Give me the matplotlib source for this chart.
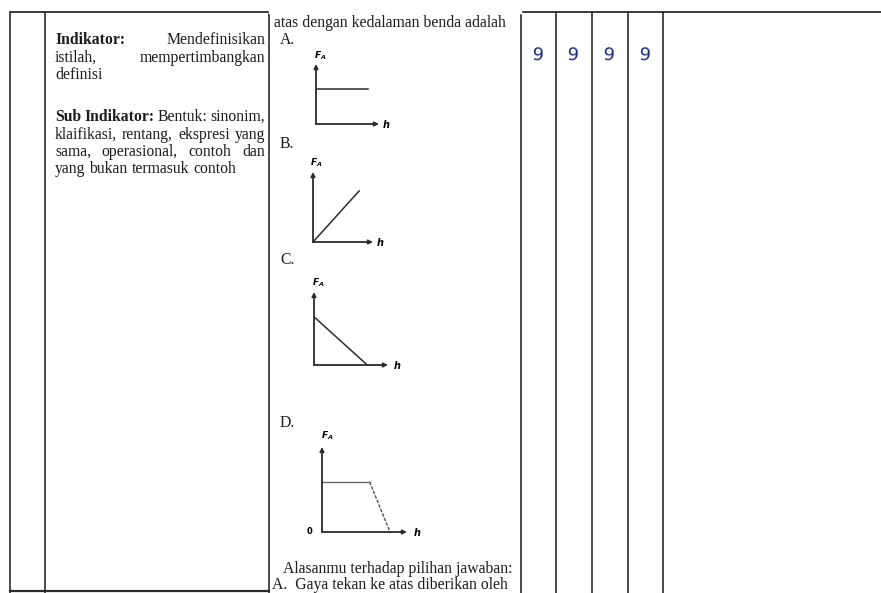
import matplotlib
matplotlib.use("Agg")
import matplotlib.pyplot as plt

plt.rcParams["mathtext.fontset"] = "custom"
plt.rcParams["mathtext.it"] = "DejaVu Sans:italic:bold"
plt.rcParams["mathtext.rm"] = "DejaVu Sans:bold"

W, H = 881, 593
SERIF = "Liberation Serif"
INK = "#1c1c1c"
GRID = "#2b2b2b"
PEN = "#1b2a80"
FS = 11.3

# --- content ---------------------------------------------------------------
indikator_lines = [
    [("Indikator:", "bold"), ("Mendefinisikan", "normal")],
    [("istilah,", "normal"), ("mempertimbangkan", "normal")],
    [("definisi", "normal")],
    [("Sub", "bold"), ("Indikator:", "bold"), ("Bentuk:", "normal"), ("sinonim,", "normal")],
    [(w, "normal") for w in "klaifikasi, rentang, ekspresi yang".split()],
    [(w, "normal") for w in "sama, operasional, contoh dan".split()],
    [(w, "normal") for w in "yang bukan termasuk contoh".split()],
]
indikator_justify = [True, True, False, True, True, True, False]

question_tail = "atas dengan kedalaman benda adalah"
option_labels = ["A.", "B.", "C.", "D."]
reason_title = "Alasanmu terhadap pilihan jawaban:"
reason_first = "A.  Gaya tekan ke atas diberikan oleh"

scores = [9, 9, 9, 9]

# option graphs: F_A against depth h (axis units 0..1)
graph_a_h = [0.0, 0.83]
graph_a_f = [0.58, 0.58]
graph_b_h = [0.0, 0.77]
graph_b_f = [0.0, 0.73]
graph_c_h = [0.0, 0.72]
graph_c_f = [0.66, 0.0]
graph_d_h = [0.0, 0.56, 0.80]
graph_d_f = [0.59, 0.59, 0.0]

# --- layout (pixels in the scan) -------------------------------------------
col_edges = [10, 45, 269, 521, 556, 592, 628, 663]
top_y = 12
bottom_y = 591
indikator_baselines = [44, 62, 79, 121, 139, 156, 173]
option_baselines = [44, 148, 264, 427]
graph_boxes = [(316, 124, 63, 60), (313, 242, 60, 70), (314, 365, 74, 73), (322, 532, 85, 85)]

fig = plt.figure(figsize=(W / 100, H / 100), dpi=100)
fig.patch.set_facecolor("white")
ax = fig.add_axes([0, 0, 1, 1])
ax.set_xlim(0, W)
ax.set_ylim(H, 0)
ax.axis("off")

# table rules
ax.plot([col_edges[0], W], [top_y, top_y], color=GRID, lw=1.3, solid_capstyle="butt")
ax.plot([col_edges[0], col_edges[2]], [bottom_y, bottom_y], color=GRID, lw=1.6)
for x in col_edges:
    ax.plot([x, x], [top_y, H], color=GRID, lw=1.2)
# the question column carries on from the previous page, no top rule there
ax.plot([col_edges[2] + 1, col_edges[3] - 1], [top_y, top_y], color="white", lw=2.5)


def draw_line(words, y, x0, x1, justify):
    renderer = fig.canvas.get_renderer()
    arts = [ax.text(0, y, w, fontsize=FS, fontweight=wt, family=SERIF, color=INK,
                    va="baseline", ha="left") for w, wt in words]
    widths = [a.get_window_extent(renderer).width for a in arts]
    space = 0.25 * FS * 100 / 72
    if justify and len(arts) > 1:
        space = (x1 - x0 - sum(widths)) / (len(arts) - 1)
    x = x0
    for a, w in zip(arts, widths):
        a.set_x(x)
        x += w + space


for words, y, just in zip(indikator_lines, indikator_baselines, indikator_justify):
    draw_line(words, y, 55, 265, just)

ax.text(274, 27, question_tail, fontsize=FS, family=SERIF, color=INK, va="baseline")
for lab, y in zip(option_labels, option_baselines):
    ax.text(280, y, lab, fontsize=FS, family=SERIF, color=INK, va="baseline")
ax.text(283, 573, reason_title, fontsize=FS, family=SERIF, color=INK, va="baseline")
ax.text(272, 589, reason_first, fontsize=FS, family=SERIF, color=INK, va="baseline")

# handwritten scores
for i, s in enumerate(scores):
    xc = (col_edges[3 + i] + col_edges[4 + i]) / 2 - 1
    ax.text(xc, 55, str(s), fontsize=13, color=PEN, ha="center", va="center",
            family="DejaVu Sans", rotation=-4)

graphs = [(graph_a_h, graph_a_f), (graph_b_h, graph_b_f), (graph_c_h, graph_c_f), (graph_d_h, graph_d_f)]
for k, ((gh, gf), (ox, oy, gw, gh_px)) in enumerate(zip(graphs, graph_boxes)):
    g = fig.add_axes([ox / W, (H - oy) / H, gw / W, gh_px / H])
    g.set_xlim(0, 1)
    g.set_ylim(0, 1)
    g.axis("off")
    arrow = dict(arrowstyle="-|>", lw=1.3, color=GRID, mutation_scale=6, shrinkA=0, shrinkB=0)
    g.annotate("", xy=(1, 0), xytext=(0, 0), arrowprops=arrow, annotation_clip=False)
    g.annotate("", xy=(0, 1), xytext=(0, 0), arrowprops=arrow, annotation_clip=False)
    if k < 3:
        g.plot(gh, gf, color=GRID, lw=1.1, clip_on=False)
    else:
        g.plot(gh[:2], gf[:2], color="#666666", lw=1.0, clip_on=False)
        g.plot(gh[1:], gf[1:], color="#555555", lw=1.0, ls=(0, (2.5, 1)), clip_on=False)
        g.text(-0.15, 0, "0", fontsize=6, fontweight="bold", ha="center", va="center",
               transform=g.transAxes)
    g.text(0.06, 1.13, "$F_A$", fontsize=6.5, ha="center", va="center", transform=g.transAxes)
    g.text(1.12, 0.0, "$h$", fontsize=7, ha="center", va="center", transform=g.transAxes)

fig.savefig("out.png", dpi=100, facecolor="white")
